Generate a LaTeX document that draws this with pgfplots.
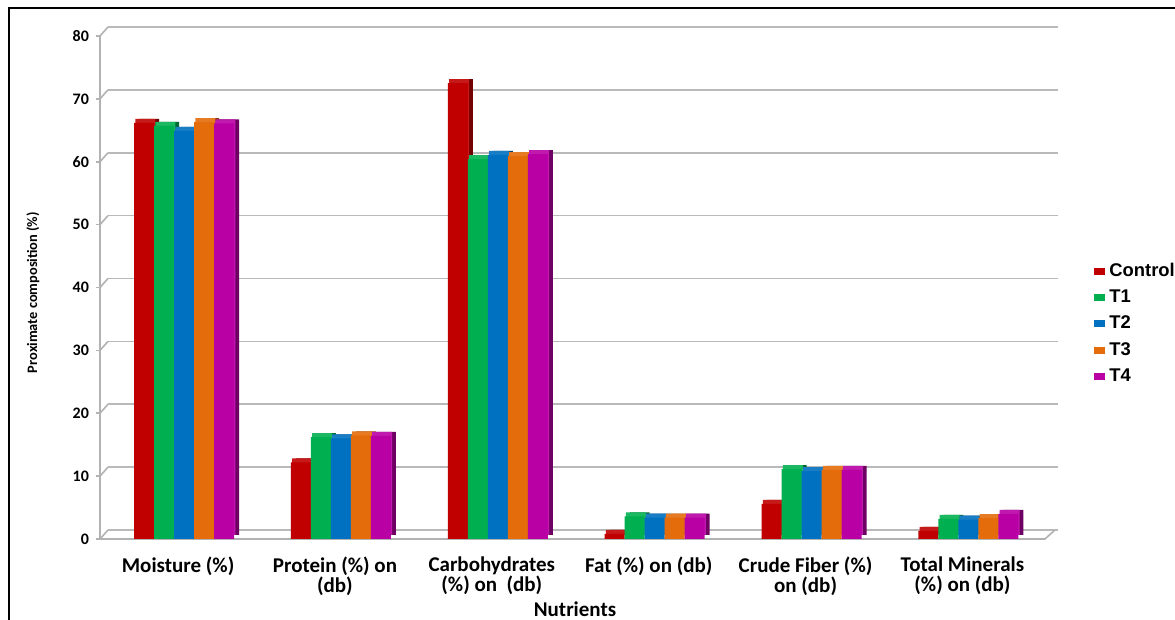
\documentclass[border=0pt]{standalone}
\usepackage{pgfplots}
\pgfplotsset{compat=1.18}
\usepackage{pgfplotstable}
\usepackage{fontspec}
\setmainfont{Carlito}
\newfontfamily\legfont{Liberation Sans}
\definecolor{cctrl}{RGB}{192,0,0}
\definecolor{ct1}{RGB}{0,176,80}
\definecolor{ct2}{RGB}{0,112,192}
\definecolor{ct3}{RGB}{228,108,10}
\definecolor{ct4}{RGB}{185,0,165}
\pgfplotstableread{
x c t1 t2 t3 t4
0 66.2 65.7 64.9 66.3 66.1
1 12.2 16.2 16.0 16.5 16.4
2 72.5 60.4 61.1 60.9 61.2
3 0.8 3.6 3.4 3.4 3.4
4 5.6 11.1 10.8 11.0 11.0
5 1.3 3.2 3.1 3.3 4.0
}\data
\begin{document}
\begin{tikzpicture}
\begin{axis}[
  at={(50pt,40.5pt)}, anchor=south west,
  scale only axis, width=475pt, height=251.5pt,
  xmin=-0.536, xmax=5.52, ymin=0, ymax=80,
  clip=false,
  axis line style={draw=none},
  ybar=0pt, bar width=10pt,
  ytick={0,10,...,80},
  ytick pos=left,
  tick align=outside,
  major tick length=2pt,
  ytick style={gray!60, line width=0.8pt},
  xtick={0,...,5},
  xtick style={draw=none},
  xticklabels={{Moisture (\%)},{Protein (\%) on\\(db)},{Carbohydrates\\(\%) on \ (db)},{Fat (\%) on (db)},{Crude Fiber (\%)\\on (db)},{Total Minerals\\(\%) on (db)}},
  xticklabel style={align=center, font=\bfseries\fontsize{10.5}{10}\selectfont, yshift=-3.5pt, xshift=-3pt},
  yticklabel style={font=\bfseries\fontsize{8}{9}\selectfont},
  /pgf/number format/assume math mode=true,
  ymajorgrids,
  grid style={gray!55, line width=0.8pt, xshift=4pt, yshift=4.5pt},
  ylabel={Proximate composition (\%)},
  every axis y label/.style={at={(rel axis cs:0,0.49)}, xshift=-33.5pt, rotate=90, anchor=center, font=\bfseries\fontsize{7.2}{8}\selectfont},
  xlabel={Nutrients},
  every axis x label/.style={at={(rel axis cs:0.5,0)}, yshift=-35pt, anchor=center, font=\bfseries\fontsize{10.5}{10}\selectfont},
  legend image code/.code={\fill[#1] (0pt,-1.75pt) rectangle (5.5pt,1.75pt);},
  legend style={at={(rel axis cs:1.040,0.428)}, anchor=west, draw=none, fill=none, font=\legfont\bfseries\fontsize{9.2}{9}\selectfont, row sep=1.3pt, legend cell align=left},
]
% floor and left wall
\draw[gray!60, line width=0.8pt] (rel axis cs:0,1) -- (rel axis cs:0,0) -- (rel axis cs:0.9947,0) -- ++(5pt,4.5pt);
\pgfplotsinvokeforeach{0,10,...,80}{\draw[gray!60, line width=0.8pt] (axis cs:-0.536,#1) -- ++(4pt,4.5pt);}
% 3D side faces
\addplot[forget plot, draw=none, fill=cctrl!60!black, bar shift=-17.5pt, yshift=2pt] table[x=x,y=c]{\data};
\addplot[forget plot, draw=none, fill=ct1!60!black, bar shift=-7.5pt, yshift=2pt] table[x=x,y=t1]{\data};
\addplot[forget plot, draw=none, fill=ct2!60!black, bar shift=2.5pt, yshift=2pt] table[x=x,y=t2]{\data};
\addplot[forget plot, draw=none, fill=ct3!60!black, bar shift=12.5pt, yshift=2pt] table[x=x,y=t3]{\data};
\addplot[forget plot, draw=none, fill=ct4!60!black, bar shift=22.5pt, yshift=2pt] table[x=x,y=t4]{\data};
% 3D top faces
\addplot[forget plot, draw=none, fill=cctrl!90!white, bar shift=-19.4pt, yshift=2pt] table[x=x,y=c]{\data};
\addplot[forget plot, draw=none, fill=ct1!90!white, bar shift=-9.4pt, yshift=2pt] table[x=x,y=t1]{\data};
\addplot[forget plot, draw=none, fill=ct2!90!white, bar shift=0.6pt, yshift=2pt] table[x=x,y=t2]{\data};
\addplot[forget plot, draw=none, fill=ct3!90!white, bar shift=10.6pt, yshift=2pt] table[x=x,y=t3]{\data};
\addplot[forget plot, draw=none, fill=ct4!90!white, bar shift=20.6pt, yshift=2pt] table[x=x,y=t4]{\data};
% front faces
\addplot[draw=none, fill=cctrl, bar shift=-20pt] table[x=x,y=c]{\data};
\addplot[draw=none, fill=ct1, bar shift=-10pt] table[x=x,y=t1]{\data};
\addplot[draw=none, fill=ct2, bar shift=0pt] table[x=x,y=t2]{\data};
\addplot[draw=none, fill=ct3, bar shift=10pt] table[x=x,y=t3]{\data};
\addplot[draw=none, fill=ct4, bar shift=20pt] table[x=x,y=t4]{\data};
\legend{Control,T1,T2,T3,T4}
\end{axis}
\draw[black, line width=1pt] (4.5pt,0pt) -- (4.5pt,306pt) -- (587.5pt,306pt);
\pgfresetboundingbox
\path (0,0) rectangle (587.5pt,310pt);
\end{tikzpicture}
\end{document}
